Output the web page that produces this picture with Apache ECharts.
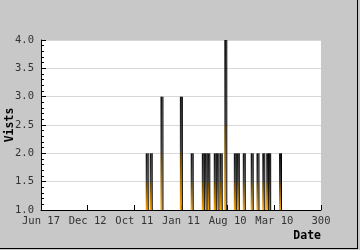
<!DOCTYPE html>
<html><head><meta charset="utf-8">
<script src="https://cdn.jsdelivr.net/npm/echarts@6/dist/echarts.min.js"></script>
<style>html,body{margin:0;padding:0;background:#c8c8c8}#c{width:360px;height:250px}</style>
</head><body><div id="c"></div>
<script>
const xTickLabels = ['Jun 17','Dec 12','Oct 11','Jan 11','Aug 10','Mar 10','300'];
const barX = [113.8,118.1,129.6,150.4,162.0,173.9,176.8,179.8,186.7,189.6,193.1,198.0,208.2,211.4,217.8,226.3,232.5,238.7,242.9,245.0,256.6];
const visits = [2,2,3,3,2,2,2,2,2,2,2,4,2,2,2,2,2,2,2,2,2];

const pts = barX.map((x,i)=>[x, visits[i]]);
const mono = 'DejaVu Sans Mono';
const chart = echarts.init(document.getElementById('c'), null, {renderer:'canvas'});
chart.setOption({
  backgroundColor:'#c8c8c8',
  animation:false,
  grid:{left:41, top:40, right:39, bottom:40, containLabel:false, outerBoundsMode:'none', show:true, backgroundColor:'#fff', borderWidth:0},
  xAxis:{
    type:'value', min:0, max:300, interval:50,
    name:'Date', nameLocation:'end', nameGap:0, nameMoveOverlap:false,
    nameTextStyle:{fontFamily:mono, fontWeight:'bold', fontSize:11.5, color:'#000', align:'right', verticalAlign:'top', padding:[20,0,0,0]},
    axisLine:{show:true, onZero:false, lineStyle:{color:'#000', width:1}},
    axisTick:{show:true, inside:true, length:5, lineStyle:{color:'#000'}},
    axisLabel:{fontFamily:mono, fontSize:10.5, color:'#333', margin:6,
      formatter:(v)=>xTickLabels[Math.round(v/50)] || ''},
    splitLine:{show:false}
  },
  yAxis:{
    type:'value', min:1, max:4, interval:0.5, startValue:1,
    name:'Vists', nameLocation:'middle', nameGap:25, nameRotate:90, nameMoveOverlap:false,
    nameTextStyle:{fontFamily:mono, fontWeight:'bold', fontSize:11.5, color:'#000'},
    axisLine:{show:true, lineStyle:{color:'#000', width:1}},
    axisTick:{show:true, inside:true, length:5, lineStyle:{color:'#000'}},
    minorTick:{show:true, splitNumber:5, length:3, lineStyle:{color:'#000'}},
    axisLabel:{fontFamily:mono, fontSize:10.5, color:'#333', margin:7, formatter:(v)=>v.toFixed(1)},
    splitLine:{show:true, lineStyle:{color:'#d8d8d8', width:1}}
  },
  series:[
    {type:'bar', data:pts, barWidth:2, barGap:'0%',
     itemStyle:{color:new echarts.graphic.LinearGradient(0,0,0,1,[
       {offset:0,color:'#111'},{offset:0.5,color:'#3c3c3c'},
       {offset:0.5,color:'#5a3c00'},{offset:1,color:'#ffa500'}])}},
    {type:'bar', data:pts, barWidth:1, barGap:'0%', itemStyle:{color:'#000'}}
  ],
  graphic:[
    {type:'rect', shape:{x:357, y:0, width:1, height:249}, style:{fill:'#000'}, silent:true},
    {type:'rect', shape:{x:0, y:248, width:358, height:1}, style:{fill:'#000'}, silent:true}
  ]
});
</script></body></html>
